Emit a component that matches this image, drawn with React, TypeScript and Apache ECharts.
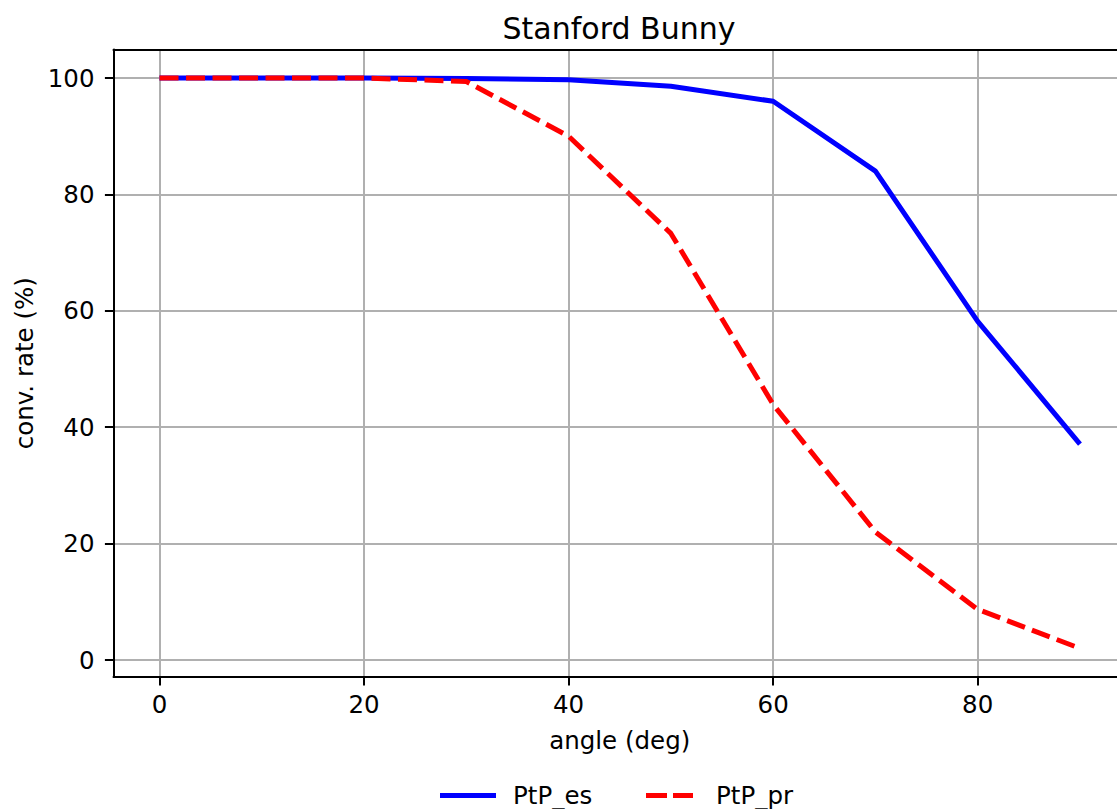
import React, { useEffect, useRef } from "react";
import * as echarts from "echarts";

const angles = [0, 10, 20, 30, 40, 50, 60, 70, 80, 90];
const ptpEs = [100, 100, 100, 99.9, 99.7, 98.6, 96.0, 84.0, 58.2, 37.1];
const ptpPr = [100, 100, 100, 99.4, 90.0, 73.3, 43.9, 22.0, 8.7, 2.0];
const xTicks = [0, 20, 40, 60, 80];
const yTicks = [0, 20, 40, 60, 80, 100];
const seriesNames = ["PtP_es", "PtP_pr"];
const titleText = "Stanford Bunny";
const xName = "angle (deg)";
const yName = "conv. rate (%)";

const FONT = "DejaVu Sans";

export default function App() {
  const ref = useRef<HTMLDivElement>(null);
  useEffect(() => {
    if (!ref.current) return;
    const chart = echarts.init(ref.current, undefined, { renderer: "svg" });
    const xMin = -4.5, xMax = 94.5;
    const yMin = -2.9, yMax = 104.9;
    const axisCommon = {
      axisLine: { show: true, onZero: false, lineStyle: { color: "#000", width: 2 } },
      axisTick: { show: true, length: 8.6, lineStyle: { color: "#000", width: 2 } },
      splitLine: { show: true, lineStyle: { color: "#b0b0b0", width: 2 } },
    };
    const legendText = { fontFamily: FONT, fontSize: 24.5, color: "#000" };
    chart.setOption({
      animation: false,
      backgroundColor: "#fff",
      title: {
        text: titleText,
        left: 614,
        textAlign: "center",
        top: 8,
        textStyle: { fontFamily: FONT, fontSize: 30, fontWeight: "normal", color: "#000" },
      },
      grid: { left: 113.5, top: 49.5, width: 1012.5, height: 627.4, containLabel: false },
      legend: [
        {
          left: 435,
          top: 778,
          itemWidth: 56,
          itemHeight: 5,
          data: [{ name: seriesNames[0], icon: "path://M0,0H56V5H0Z" }],
          itemStyle: { color: "#0000ff" },
          textStyle: { ...legendText, padding: [0, 0, 0, 12] },
        },
        {
          left: 641,
          top: 778,
          itemWidth: 47,
          itemHeight: 5,
          data: [{ name: seriesNames[1], icon: "path://M0,0H21V5H0Z M27,0H47V5H27Z" }],
          itemStyle: { color: "#ff0000" },
          textStyle: { ...legendText, padding: [0, 0, 0, 18] },
        },
      ],
      xAxis: [
        {
          type: "value",
          min: xMin,
          max: xMax,
          ...axisCommon,
          axisTick: { ...axisCommon.axisTick, customValues: xTicks },
          axisLabel: {
            customValues: xTicks,
            margin: 15,
            fontFamily: FONT,
            fontSize: 24.5,
            color: "#000",
          },
          name: xName,
          nameLocation: "middle",
          nameGap: 51,
          nameTextStyle: { fontFamily: FONT, fontSize: 24.5, color: "#000" },
        },
        {
          type: "value",
          position: "top",
          min: xMin,
          max: xMax,
          axisLine: { show: true, onZero: false, lineStyle: { color: "#000", width: 2 } },
          axisTick: { show: false },
          axisLabel: { show: false },
          splitLine: { show: false },
        },
      ],
      yAxis: [
        {
          type: "value",
          min: yMin,
          max: yMax,
          ...axisCommon,
          axisTick: { ...axisCommon.axisTick, customValues: yTicks },
          axisLabel: {
            customValues: yTicks,
            margin: 19,
            fontFamily: FONT,
            fontSize: 24.5,
            color: "#000",
          },
          name: yName,
          nameLocation: "middle",
          nameGap: 77,
          nameTextStyle: { fontFamily: FONT, fontSize: 24.5, color: "#000" },
        },
      ],
      series: [
        {
          name: seriesNames[0],
          type: "line",
          xAxisIndex: 0,
          symbol: "none",
          data: angles.map((a, i) => [a, ptpEs[i]]),
          lineStyle: { color: "#0000ff", width: 5 },
          itemStyle: { color: "#0000ff" },
        },
        {
          name: seriesNames[1],
          type: "line",
          xAxisIndex: 0,
          symbol: "none",
          data: angles.map((a, i) => [a, ptpPr[i]]),
          lineStyle: { color: "#ff0000", width: 5, type: [19, 7.5] },
          itemStyle: { color: "#ff0000" },
        },
      ],
    });
    return () => chart.dispose();
  }, []);
  return (
    <div
      ref={ref}
      style={{ position: "fixed", left: 0, top: 0, width: 1130, height: 809 }}
    />
  );
}
